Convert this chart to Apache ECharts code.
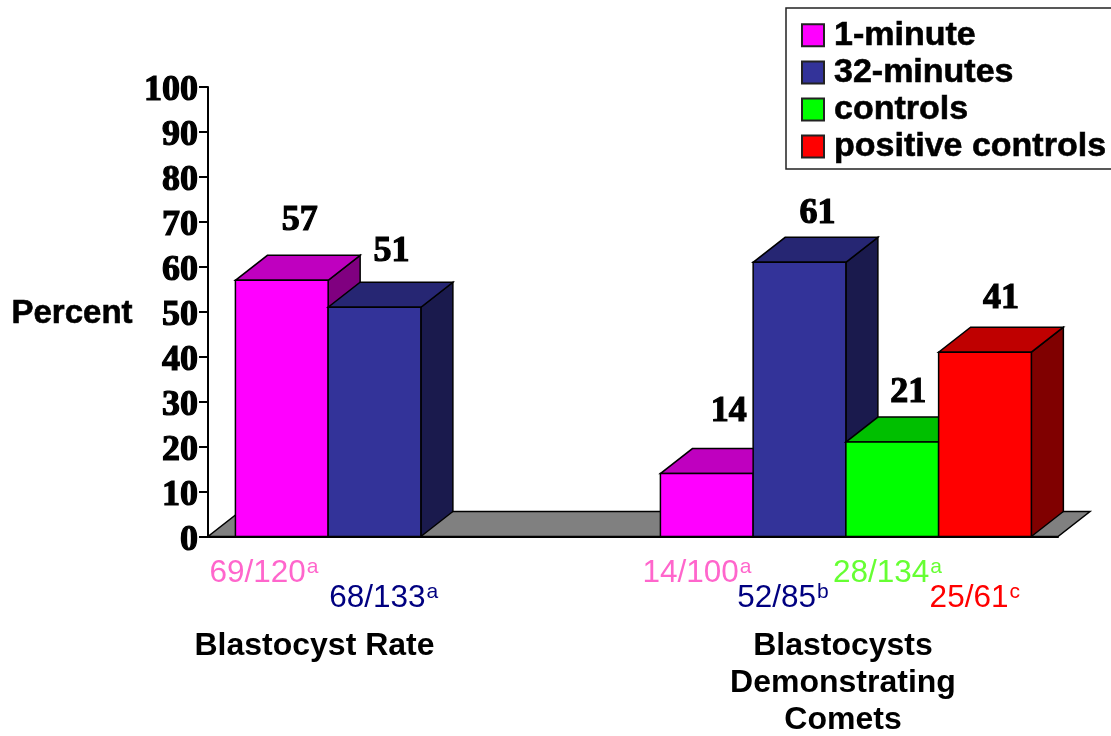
<!DOCTYPE html>
<html><head><meta charset="utf-8">
<style>html,body{margin:0;padding:0;background:#fff}#c{width:1111px;height:736px}</style>
<script src="https://cdn.jsdelivr.net/npm/echarts@6/dist/echarts.min.js"></script>
</head><body><div id="c"></div>
<script>
const categories = ['Blastocyst Rate', 'Blastocysts\nDemonstrating\nComets'];
const seriesNames = ['1-minute', '32-minutes', 'controls', 'positive controls'];
const oneMinute = [57, 14];
const thirtyTwoMinutes = [51, 61];
const controls = [null, 21];
const positiveControls = [null, 41];
const yTicks = {min: 0, max: 100, interval: 10};

const fractionsOne = ['69/120', '14/100'];
const fractionsThirtyTwo = ['68/133', '52/85'];
const fractionsControls = [null, '28/134'];
const fractionsPositive = [null, '25/61'];
const supersOne = ['a', 'a'];
const supersThirtyTwo = ['a', 'b'];
const supersControls = [null, 'a'];
const supersPositive = [null, 'c'];

/* styling and layout */
const FACE = [
  {front: '#ff00ff', top: '#bf00bf', side: '#800080', text: '#ff66cc'},
  {front: '#333399', top: '#262673', side: '#1a1a4d', text: '#000080'},
  {front: '#00ff00', top: '#00bf00', side: '#008000', text: '#66ff33'},
  {front: '#ff0000', top: '#bf0000', side: '#800000', text: '#ff0000'}
];
const DEPTH_X = 32, DEPTH_Y = 25, STROKE = 1.5;
const PAD = 0.0645, SLOT = 0.2182;
const SERIF = '"Liberation Serif", "Times New Roman", serif';
const SANS = '"Liberation Sans", Arial, sans-serif';
// label nudges [series][category]: dx from bar centre, dy above back top edge
const VALUE_NUDGE = [[[18, 35], [22, 37]], [[17, 31], [18, 24]], [null, [16, 24]], [null, [16, 29]]];
// fraction label: left edge relative to bar left, centre y below axis
const FRACTION_NUDGE = [[[-26, 37], [-18, 37]], [[1, 62], [-16, 62]], [null, [-13, 37]], [null, [-9, 62]]];

const seriesValues = [oneMinute, thirtyTwoMinutes, controls, positiveControls];
const seriesFractions = [fractionsOne, fractionsThirtyTwo, fractionsControls, fractionsPositive];
const seriesSupers = [supersOne, supersThirtyTwo, supersControls, supersPositive];

function poly(points, fill) {
  return {type: 'polygon', shape: {points},
    style: {fill, stroke: '#000', lineWidth: STROKE, lineJoin: 'miter'}};
}

function barRenderer(si) {
  return function (params, api) {
    const cat = api.value(0), val = api.value(1);
    const band = api.size([1, 0])[0];
    const c = api.coord([cat, val]), base = api.coord([cat, 0]);
    const x0 = c[0] - band / 2 + band * (PAD + si * SLOT);
    const x1 = x0 + band * SLOT;
    const yT = c[1], yB = base[1];
    const col = FACE[si];
    const vn = VALUE_NUDGE[si][cat], fn = FRACTION_NUDGE[si][cat];
    return {type: 'group', children: [
      poly([[x1, yB], [x1 + DEPTH_X, yB - DEPTH_Y], [x1 + DEPTH_X, yT - DEPTH_Y], [x1, yT]], col.side),
      poly([[x0, yT], [x1, yT], [x1 + DEPTH_X, yT - DEPTH_Y], [x0 + DEPTH_X, yT - DEPTH_Y]], col.top),
      poly([[x0, yB], [x1, yB], [x1, yT], [x0, yT]], col.front),
      {type: 'text', style: {
        text: String(val), x: (x0 + x1) / 2 + vn[0], y: yT - DEPTH_Y - vn[1],
        align: 'center', verticalAlign: 'middle',
        font: 'bold 36px ' + SERIF, fill: '#000', stroke: '#000', lineWidth: 1.2}},
      {type: 'text', style: {
        text: '{f|' + seriesFractions[si][cat] + '}{s|' + seriesSupers[si][cat] + '}',
        x: x0 + fn[0], y: yB + fn[1], align: 'left', verticalAlign: 'middle',
        rich: {
          f: {font: '31.5px ' + SANS, fill: col.text, lineHeight: 34},
          s: {font: '21px ' + SANS, fill: col.text, lineHeight: 34, verticalAlign: 'top', padding: [0, 0, 14, 1]}
        }}}
    ]};
  };
}

function floorRenderer(params, api) {
  const g = params.coordSys, b = g.y + g.height;
  return poly([[g.x, b], [g.x + g.width, b], [g.x + g.width + DEPTH_X, b - DEPTH_Y], [g.x + DEPTH_X, b - DEPTH_Y]], '#808080');
}

const series = [{
  type: 'custom', name: 'floor', silent: true, z: 1,
  coordinateSystem: 'cartesian2d', renderItem: floorRenderer, data: [[0, 0]], clip: false
}];
seriesNames.forEach((name, si) => {
  series.push({
    type: 'custom', name, z: 2 + si, coordinateSystem: 'cartesian2d', clip: false,
    renderItem: barRenderer(si),
    itemStyle: {color: FACE[si].front, borderColor: '#222', borderWidth: 1},
    encode: {x: 0, y: 1},
    data: seriesValues[si].map((v, i) => v === null ? null : [i, v]).filter(Boolean)
  });
});

const chart = echarts.init(document.getElementById('c'), null, {renderer: 'canvas'});
chart.setOption({
  animation: false,
  backgroundColor: '#fff',
  grid: {left: 208, top: 87, width: 850, height: 450, containLabel: false},
  legend: {
    data: seriesNames, orient: 'vertical', left: 786, top: 8,
    padding: [10, 10, 5, 15], itemWidth: 22, itemHeight: 22, itemGap: 2.5,
    borderColor: '#222', borderWidth: 1.5, backgroundColor: '#fff', selectedMode: false,
    icon: 'rect', align: 'left',
    formatter: name => '{t|' + name + '}',
    textStyle: {
      rich: {t: {fontFamily: SANS, fontWeight: 'bold', fontSize: 34, color: '#000', lineHeight: 22,
        padding: [0, 0, 0, 5], textBorderColor: '#000', textBorderWidth: 0.6}}
    }
  },
  xAxis: {
    type: 'category', data: categories,
    axisLine: {show: true, lineStyle: {color: '#000', width: 2}},
    axisTick: {show: false},
    axisLabel: {
      interval: 0, margin: 91, verticalAlign: 'top', hideOverlap: false,
      formatter: (v, i) => v.split('\n').map(l => '{c' + i + '|' + l + '}').join('\n'),
      rich: {
        c0: {fontFamily: SANS, fontWeight: 'bold', fontSize: 32, color: '#000', lineHeight: 37, padding: [0, 212, 0, 0]},
        c1: {fontFamily: SANS, fontWeight: 'bold', fontSize: 32, color: '#000', lineHeight: 37, padding: [0, 5, 0, 0]}
      }
    }
  },
  yAxis: {
    type: 'value', min: yTicks.min, max: yTicks.max, interval: yTicks.interval,
    name: 'Percent', nameLocation: 'middle', nameRotate: 0, nameGap: 136,
    nameTextStyle: {fontFamily: SANS, fontWeight: 'bold', fontSize: 33, color: '#000', align: 'center',
      verticalAlign: 'top', lineHeight: 4, textBorderColor: '#000', textBorderWidth: 0.6},
    axisLine: {show: true, lineStyle: {color: '#000', width: 2}},
    axisTick: {show: true, length: 9, lineStyle: {color: '#000', width: 2}},
    splitLine: {show: false},
    axisLabel: {margin: 10, fontFamily: SERIF, fontWeight: 'bold', fontSize: 36, color: '#000',
      verticalAlign: 'top', lineHeight: 8, textBorderColor: '#000', textBorderWidth: 1.2}
  },
  series
});
</script></body></html>
